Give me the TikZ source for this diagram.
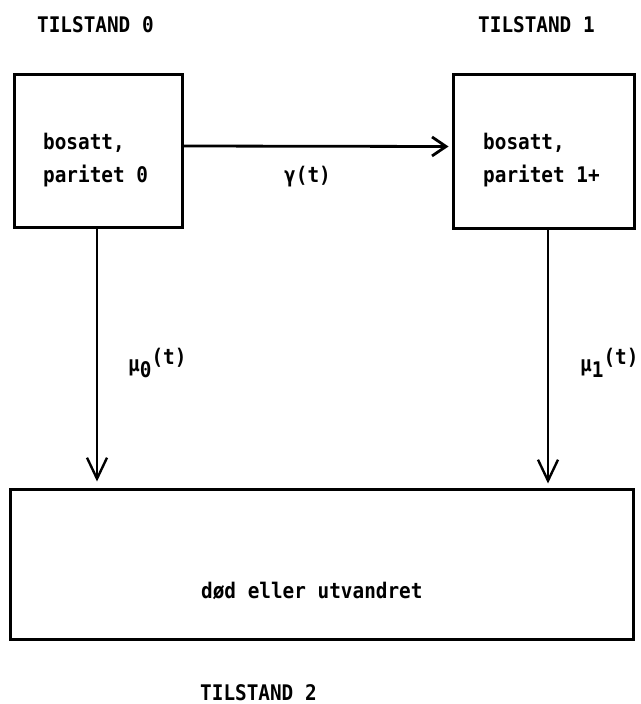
\documentclass[tikz,border=0pt]{standalone}
\usepackage{fontspec}
\setmainfont{DejaVu Sans Mono}[FakeStretch=0.9]
\usetikzlibrary{arrows.meta}
\begin{document}
\begin{tikzpicture}[x=1pt,y=-1pt,
  statebox/.style={draw, line width=3pt, inner sep=0pt, minimum width=#1},
  txt/.style={font=\fontsize{21.5}{26}\selectfont\bfseries, inner sep=0pt, anchor=base west},
  flow/.style={line width=2.2pt, -{Straight Barb[length=21pt,width=20pt,line width=2.4pt]}},
  hflow/.style={line width=2.8pt, -{Straight Barb[length=14pt,width=19pt,line width=2.8pt]}}
]
\useasboundingbox (0,0) rectangle (640,704);
% boxes
\node[statebox=168pt, minimum height=153pt] (b0) at (98,150.5) {};
\node[statebox=181pt, minimum height=154pt] (b1) at (543.5,151) {};
\node[statebox=623pt, minimum height=150pt] (b2) at (321.5,564) {};
% titles
\node[txt] (t0) at (37,32) {TILSTAND 0};
\node[txt] (t1) at (478,32) {TILSTAND 1};
\node[txt] (t2) at (200,700) {TILSTAND 2};
% box texts
\node[txt] (a1) at (43,149) {bosatt,};
\node[txt] (a2) at (43,182) {paritet 0};
\node[txt] (c1) at (483,149) {bosatt,};
\node[txt] (c2) at (483,182) {paritet 1+};
\node[txt] (d1) at (201,598) {død eller utvandret};
% rates
\node[txt] (g) at (284,182) {γ(t)};
\node[txt] (m0) at (128,371) {μ\raisebox{-6pt}{0}\raisebox{7pt}{(t)}};
\node[txt] (m1) at (580,371) {μ\raisebox{-6pt}{1}\raisebox{7pt}{(t)}};
% connectors
\draw[hflow, shorten >=3pt] ([yshift=4.5pt]b0.east) -- ([yshift=4.5pt]b1.west);
\draw[flow, shorten >=6pt] ([xshift=-1pt]b0.south) -- ([xshift=-1pt]b0.south |- b2.north);
\draw[flow, shorten >=4pt] ([xshift=4.5pt]b1.south) -- ([xshift=4.5pt]b1.south |- b2.north);
\end{tikzpicture}
\end{document}
